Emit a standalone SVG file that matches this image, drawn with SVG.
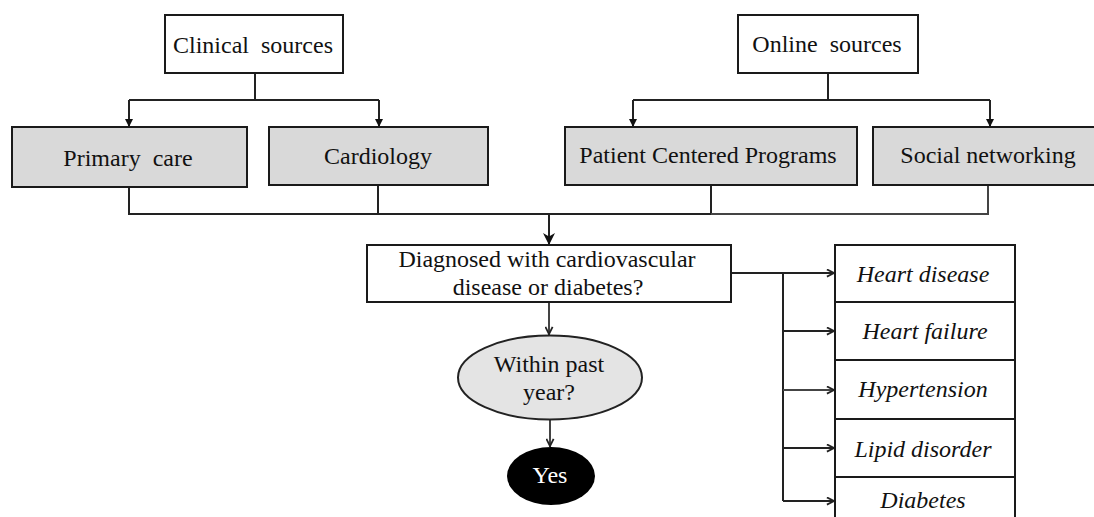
<svg xmlns="http://www.w3.org/2000/svg" width="1094" height="517" viewBox="0 0 1094 517">
<style>
.box{fill:#fff;stroke:#1a1a1a;stroke-width:2}
.gbox{fill:#d9d9d9;stroke:#1a1a1a;stroke-width:2}
.t{font-family:"Liberation Serif","Times New Roman",serif;font-size:24px;fill:#111;text-anchor:middle;white-space:pre}
.it{font-family:"Liberation Serif","Times New Roman",serif;font-size:24px;font-style:italic;fill:#111;text-anchor:middle}
.ln{fill:none;stroke:#222;stroke-width:2}
.lg{fill:none;stroke:#444;stroke-width:2}
</style>
<defs>
<marker id="sm" viewBox="0 0 10 10" refX="10" refY="5" markerWidth="4" markerHeight="4" orient="auto" markerUnits="strokeWidth">
<path d="M0,0 L10,5 L0,10 Z" fill="#111"/>
</marker>
<marker id="big" viewBox="0 0 10 10" refX="10" refY="5" markerWidth="6" markerHeight="6" orient="auto" markerUnits="strokeWidth">
<path d="M0,0 L10,5 L0,10 L3,5 Z" fill="#111"/>
</marker>
<marker id="ch" viewBox="0 0 10 10" refX="10" refY="5" markerWidth="4.5" markerHeight="4.5" orient="auto" markerUnits="strokeWidth">
<path d="M1,1 L9,5 L1,9" fill="none" stroke="#222" stroke-width="2"/>
</marker>
</defs>

<g id="connectors">
<path class="ln" d="M255,73 V100 M129,100 H379" />
<path class="ln" d="M129,100 V127" marker-end="url(#sm)"/>
<path class="ln" d="M379,100 V127" marker-end="url(#sm)"/>
<path class="ln" d="M828,73 V100 M633,100 H990"/>
<path class="ln" d="M633,100 V127" marker-end="url(#sm)"/>
<path class="ln" d="M990,100 V127" marker-end="url(#sm)"/>
<path class="ln" d="M129,187 V214 H711 V185"/>
<path class="ln" d="M378,185 V214"/>
<path class="lg" d="M711,214 H988 V185"/>
<path class="ln" d="M549,214 V245" marker-end="url(#big)"/>
<path class="lg" d="M549,302 V335" marker-end="url(#ch)"/>
<path class="lg" d="M550,420 V447" marker-end="url(#ch)"/>
<path class="ln" d="M731,273 H835" marker-end="url(#ch)"/>
<path class="ln" d="M783,273 V501"/>
<path class="ln" d="M783,331 H835" marker-end="url(#ch)"/>
<path class="lg" d="M783,390 H835" marker-end="url(#ch)"/>
<path class="ln" d="M783,448 H835" marker-end="url(#ch)"/>
<path class="ln" d="M783,501 H835" marker-end="url(#ch)"/>
</g>

<g id="clinical"><rect class="box" x="165" y="15" width="178" height="58"/><text class="t" x="253" y="53" font-size="23" xml:space="preserve">Clinical  sources</text></g>
<g id="online"><rect class="box" x="738" y="15" width="180" height="58"/><text class="t" x="827" y="52" font-size="23" xml:space="preserve">Online  sources</text></g>
<g id="primary"><rect class="gbox" x="12" y="127" width="235" height="60"/><text class="t" x="128" y="166" xml:space="preserve">Primary  care</text></g>
<g id="cardiology"><rect class="gbox" x="269" y="127" width="219" height="58"/><text class="t" x="378" y="164">Cardiology</text></g>
<g id="patient"><rect class="gbox" x="565" y="127" width="292" height="58"/><text class="t" x="708" y="163">Patient Centered Programs</text></g>
<g id="social"><rect class="gbox" x="873" y="127" width="230" height="58"/><text class="t" x="988" y="163">Social networking</text></g>
<g id="diagnosed"><rect class="box" x="367" y="245" width="364" height="57"/><text class="t" x="547" y="267">Diagnosed with cardiovascular</text><text class="t" x="548" y="295">disease or diabetes?</text></g>
<g id="within"><ellipse cx="550" cy="377.5" rx="92" ry="42" fill="#e4e4e4" stroke="#222" stroke-width="2"/><text class="t" x="549" y="372" font-size="22">Within past</text><text class="t" x="549" y="400" font-size="22">year?</text></g>
<g id="yes"><ellipse cx="551" cy="476" rx="44" ry="29" fill="#000"/><text class="t" x="550" y="483" font-size="20" style="fill:#fff">Yes</text></g>
<g id="heart-disease"><rect class="box" x="835" y="245" width="180" height="57"/><text class="it" x="923" y="282">Heart disease</text></g>
<g id="heart-failure"><rect class="box" x="835" y="302" width="180" height="58"/><text class="it" x="925" y="339">Heart failure</text></g>
<g id="hypertension"><rect class="box" x="835" y="360" width="180" height="59"/><text class="it" x="923" y="397">Hypertension</text></g>
<g id="lipid"><rect class="box" x="835" y="419" width="180" height="58"/><text class="it" x="923" y="457">Lipid disorder</text></g>
<g id="diabetes"><rect class="box" x="835" y="477" width="180" height="60"/><text class="it" x="923" y="508">Diabetes</text></g>
</svg>
